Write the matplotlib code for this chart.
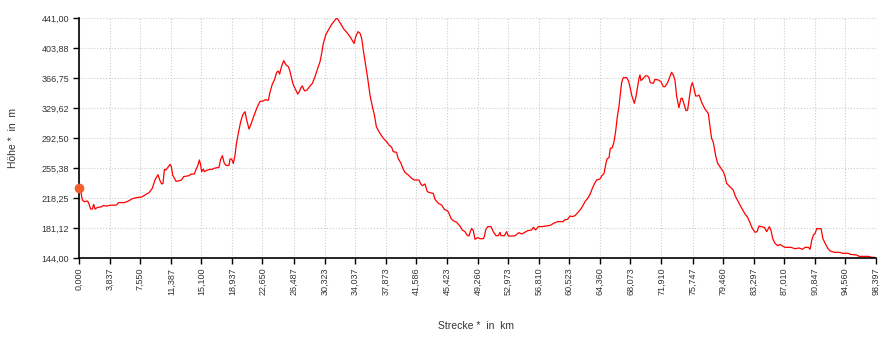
import matplotlib
matplotlib.use("Agg")
import matplotlib.pyplot as plt

plt.rcParams['font.family'] = ['Liberation Sans', 'DejaVu Sans']

# Höhenprofil: Strecke in km, Höhe in m
strecke = [
    0.00, 0.25, 0.41, 0.66, 1.07, 1.23, 1.44, 1.65, 1.81, 1.98, 2.30, 2.72, 3.00, 3.42,
    3.83, 4.65, 4.86, 5.60, 6.09, 6.59, 7.12, 7.74, 8.15, 8.64, 9.05, 9.38, 9.75, 10.00,
    10.20, 10.37, 10.54, 10.74, 10.95, 11.24, 11.40, 11.56, 11.98, 12.26, 12.66, 12.92,
    13.58, 13.83, 14.24, 14.49, 14.65, 14.86, 15.02, 15.14, 15.35, 15.47, 15.76, 16.17,
    16.46, 16.63, 17.28, 17.49, 17.70, 17.94, 18.23, 18.52, 18.64, 18.85, 19.05, 19.26,
    19.42, 19.67, 19.96, 20.21, 20.50, 20.70, 20.99, 21.20, 21.53, 21.94, 22.35, 22.76,
    22.97, 23.37, 23.58, 23.87, 24.12, 24.41, 24.60, 24.77, 25.00, 25.27, 25.57, 25.85,
    26.06, 26.26, 26.47, 26.76, 27.00, 27.20, 27.42, 27.58, 27.74, 27.90, 28.15, 28.52,
    28.81, 29.14, 29.43, 29.76, 29.96, 30.17, 30.46, 30.79, 31.20, 31.61, 31.81, 32.02,
    32.35, 32.68, 33.05, 33.46, 33.79, 33.96, 34.16, 34.45, 34.70, 34.90, 35.10, 35.39,
    35.64, 35.93, 36.22, 36.47, 36.71, 36.96, 37.16, 37.57, 37.98, 38.26, 38.60, 38.80,
    39.20, 39.40, 39.75, 40.04, 40.24, 40.66, 41.07, 41.40, 41.97, 42.20, 42.39, 42.71,
    43.00, 43.33, 43.74, 43.95, 44.36, 44.77, 45.10, 45.51, 45.68, 45.92, 46.21, 46.62,
    47.03, 47.32, 47.65, 47.90, 48.15, 48.31, 48.48, 48.68, 48.89, 49.22, 49.51, 49.92,
    50.04, 50.21, 50.45, 50.86, 51.15, 51.48, 51.77, 51.98, 52.10, 52.51, 52.80, 53.00,
    53.50, 53.83, 54.32, 54.65, 54.98, 55.40, 55.89, 56.09, 56.38, 56.71, 57.12, 57.74,
    58.28, 58.57, 59.10, 59.80, 59.92, 60.33, 60.62, 60.91, 61.24, 61.57, 61.86, 62.14,
    62.47, 62.80, 63.09, 63.38, 63.62, 63.91, 64.32, 64.53, 64.82, 65.02, 65.18, 65.43,
    65.60, 65.84, 66.05, 66.25, 66.46, 66.66, 66.87, 66.99, 67.20, 67.61, 67.82, 68.02,
    68.23, 68.43, 68.56, 68.76, 68.97, 69.13, 69.26, 69.38, 69.67, 69.96, 70.20, 70.37,
    70.53, 70.90, 71.11, 71.52, 71.85, 72.14, 72.34, 72.67, 72.96, 73.16, 73.37, 73.57,
    73.79, 74.07, 74.32, 74.48, 74.73, 74.94, 75.14, 75.35, 75.55, 75.72, 75.92, 76.13,
    76.37, 76.54, 76.66, 76.87, 77.28, 77.69, 77.94, 78.10, 78.31, 78.60, 78.85, 79.13,
    79.54, 79.75, 79.95, 80.36, 80.77, 81.06, 81.39, 81.72, 82.22, 82.55, 82.84, 83.13,
    83.46, 83.71, 83.96, 84.20, 84.61, 84.90, 85.23, 85.44, 85.64, 85.93, 86.26, 86.55,
    86.84, 87.17, 87.91, 88.40, 88.90, 89.31, 89.64, 90.05, 90.26, 90.47, 90.67, 90.88,
    91.08, 91.62, 91.83, 92.12, 92.45, 92.74, 93.27, 93.97, 94.26, 95.00, 95.21, 96.03,
    96.32, 97.48, 97.89, 98.22, 98.397,
]
hoehe = [
    231.0, 224.8, 215.8, 213.7, 214.5, 210.8, 204.6, 204.6, 210.4, 204.6, 206.7, 207.1, 208.8, 208.3,
    209.2, 209.6, 212.5, 212.5, 214.5, 217.4, 218.7, 219.5, 222.0, 224.8, 230.2, 240.5, 247.1, 239.7,
    235.6, 236.4, 253.7, 252.9, 255.8, 259.9, 257.0, 246.7, 238.9, 239.3, 240.5, 244.7,
    245.9, 247.9, 247.9, 254.9, 257.8, 265.3, 259.1, 250.8, 254.1, 250.8, 252.5, 253.7,
    253.7, 254.9, 256.2, 266.1, 270.6, 261.1, 258.3, 258.7, 266.5, 266.5, 261.1, 271.0,
    284.7, 298.3, 312.7, 321.0, 325.1, 314.8, 303.6, 308.6, 318.1, 329.2, 337.9, 338.3,
    339.9, 339.1, 349.0, 359.3, 364.3, 373.8, 375.4, 371.7, 380.8, 388.2, 382.8, 380.8,
    374.6, 365.5, 358.1, 351.9, 346.9, 349.8, 355.2, 356.9, 352.7, 350.7, 351.9, 356.9,
    360.1, 368.4, 377.5, 387.0, 397.3, 409.7, 420.0, 426.2, 433.2, 438.5, 441.0, 438.5,
    433.2, 427.4, 423.3, 417.9, 412.5, 409.6, 417.9, 424.1, 422.0, 415.8, 401.4, 382.8,
    366.3, 345.6, 331.2, 320.9, 306.5, 301.6, 298.3, 292.1, 288.0, 283.9, 281.0, 275.6,
    274.8, 267.3, 261.2, 253.7, 250.0, 246.7, 242.6, 240.5, 240.5, 235.6, 233.5, 235.6,
    226.1, 224.8, 224.0, 216.6, 211.7, 209.6, 204.2, 202.2, 199.3, 193.1, 190.2, 188.2,
    183.6, 178.7, 176.6, 172.5, 171.2, 176.6, 180.7, 177.8, 167.1, 169.2, 167.9, 167.9,
    170.4, 178.7, 182.8, 182.8, 176.6, 171.6, 171.6, 175.8, 171.6, 171.6, 176.6, 171.2,
    171.2, 171.6, 175.4, 173.7, 175.4, 177.8, 178.7, 182.0, 178.7, 182.8, 182.8, 183.6,
    184.8, 186.9, 189.0, 189.0, 191.0, 191.9, 196.0, 195.2, 196.4, 200.1, 203.4, 207.5,
    213.7, 217.8, 222.8, 230.2, 235.6, 240.5, 241.8, 245.5, 248.8, 259.1, 266.5, 268.2,
    279.7, 280.5, 287.9, 300.3, 318.9, 331.3, 349.8, 361.0, 367.2, 367.2, 363.5, 356.0,
    345.7, 339.5, 335.4, 343.7, 356.0, 366.3, 370.5, 363.5, 366.3, 369.6, 369.2, 367.2,
    361.0, 360.1, 365.1, 364.3, 362.2, 356.0, 356.0, 361.0, 368.4, 373.8, 370.5, 364.3,
    343.7, 330.0, 341.6, 341.6, 333.3, 326.3, 327.2, 341.6, 356.0, 361.0, 353.9, 344.5,
    344.5, 345.7, 342.8, 336.6, 328.3, 322.9, 304.4, 292.1, 287.1, 270.6, 261.1, 257.0,
    250.8, 245.5, 236.4, 232.3, 228.1, 219.9, 213.7, 207.5, 198.5, 194.3, 187.7, 180.7,
    175.8, 176.6, 183.6, 182.8, 182.0, 176.6, 182.8, 177.8, 168.3, 162.1, 159.2, 160.8,
    158.8, 157.2, 157.2, 155.5, 156.4, 154.7, 157.2, 157.2, 154.7, 166.2, 172.5, 174.5,
    180.3, 180.3, 168.3, 162.1, 155.9, 152.7, 151.0, 151.0, 149.8, 149.8, 148.5, 147.7,
    146.0, 146.0, 144.8, 144.8, 144.0,
]

x_ticks = [0.000, 3.837, 7.550, 11.387, 15.100, 18.937, 22.650, 26.487, 30.323, 34.037,
           37.873, 41.586, 45.423, 49.260, 52.973, 56.810, 60.523, 64.360, 68.073, 71.910,
           75.747, 79.460, 83.297, 87.010, 90.847, 94.560, 98.397]
y_ticks = [144.00, 181.12, 218.25, 255.38, 292.50, 329.62, 366.75, 403.88, 441.00]


fig = plt.figure(figsize=(8.92, 3.39), dpi=100)
ax = fig.add_axes([79 / 892, 1 - 258 / 339, 797 / 892, 240 / 339])

ax.plot(strecke, hoehe, color='#ff0000', linewidth=0.9)
ax.plot([strecke[0]], [hoehe[0]], 'o', color='#f0602f', markersize=6, clip_on=False, zorder=5)

ax.set_xlim(0, 98.397)
ax.set_ylim(144, 441)

ax.set_xticks(x_ticks)
ax.set_xticklabels([f"{v:.3f}".replace('.', ',') for v in x_ticks], rotation=90)
ax.set_yticks(y_ticks)
ax.set_yticklabels([f"{v:.2f}".replace('.', ',') for v in y_ticks])

ax.tick_params(axis='both', labelsize=6.5, labelcolor='#333333', length=4, width=1, pad=3)
ax.grid(True, color='#cccccc', linestyle=':', linewidth=0.8)
for side in ['top', 'right']:
    ax.spines[side].set_visible(False)
for side in ['left', 'bottom']:
    ax.spines[side].set_linewidth(1.2)

fig.text(13 / 892, 1 - 138 / 339, "Höhe *  in  m", rotation=90, ha='center', va='center',
         fontsize=7.5, color='#333333')
fig.text(476 / 892, 1 - 326 / 339, "Strecke *  in  km", ha='center', va='center',
         fontsize=7.5, color='#333333')

fig.savefig("out.png", dpi=100)
